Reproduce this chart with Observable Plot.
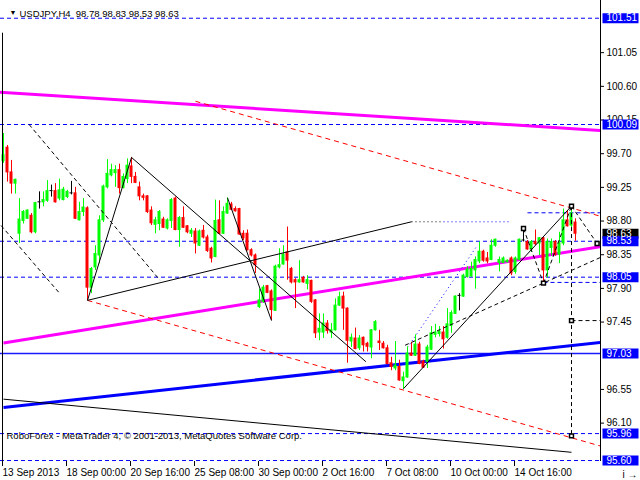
<!DOCTYPE html>
<html><head><meta charset="utf-8">
<script src="https://cdn.jsdelivr.net/npm/d3@7"></script>
<script src="https://cdn.jsdelivr.net/npm/@observablehq/plot@0.6"></script>
<style>html,body{margin:0;padding:0;background:#fff}svg{display:block}</style>
</head><body><div id="chart"></div>
<script>
// ---- data (USDJPY H4, bar index 0 = 13 Sep 2013 08:00) ----
const tickIdx = [0, 16, 32, 48, 64, 80, 96, 112, 128];
const tickLabels = ["13 Sep 2013", "18 Sep 00:00", "20 Sep 16:00", "25 Sep 08:00", "30 Sep 00:00", "2 Oct 16:00", "7 Oct 08:00", "10 Oct 00:00", "14 Oct 16:00"];

const open = [99.60,99.78,99.45,99.30,98.63,98.80,98.83,98.87,98.65,99.05,99.05,99.07,99.20,99.20,99.10,99.08,99.12,99.17,99.17,98.81,
98.92,98.97,97.91,98.18,98.34,98.81,99.25,99.41,99.44,99.48,99.24,99.36,99.53,99.39,99.25,99.13,99.13,98.94,98.75,98.76,
98.82,98.70,98.80,99.10,98.68,98.84,98.73,98.63,98.66,98.47,98.67,98.58,98.43,98.32,98.81,98.63,98.90,99.02,98.96,98.96,
98.63,98.63,98.41,98.34,97.65,97.72,97.93,97.86,97.60,98.18,98.22,98.38,98.16,98.01,97.98,98.04,97.96,98.00,97.74,97.31,
97.31,97.43,97.31,97.34,97.67,97.79,97.63,97.19,97.23,97.10,97.24,97.16,97.11,97.34,97.19,97.16,97.10,96.90,96.83,96.85,
96.66,96.71,97.03,97.00,97.15,96.92,96.92,97.08,97.28,97.29,97.31,97.24,97.40,97.56,97.80,97.79,98.05,98.06,98.14,98.26,
98.39,98.30,98.28,98.47,98.24,98.24,98.25,98.30,98.12,98.28,98.54,98.52,98.42,98.52,98.50,98.57,98.14,98.44,98.52,98.35,
98.50,98.81,98.74,98.78];
const high = [99.97,99.81,99.61,99.36,99.10,98.94,98.95,98.90,99.05,99.19,99.19,99.34,99.28,99.30,99.36,99.25,99.21,99.33,99.25,99.05,
99.10,98.99,98.18,98.47,98.87,99.28,99.62,99.56,99.54,99.56,99.43,99.63,99.65,99.45,99.32,99.16,99.14,98.99,98.85,98.94,
98.85,98.83,99.10,99.12,98.86,98.99,98.74,98.70,98.70,98.68,98.74,98.61,98.45,99.08,99.07,98.99,99.11,99.05,98.99,98.97,
98.67,98.68,98.43,98.36,97.89,97.94,97.94,97.88,98.21,98.43,98.47,98.72,98.18,98.03,98.27,98.06,98.07,98.01,97.75,97.56,
97.56,97.47,97.43,97.76,97.85,97.85,97.64,97.29,97.37,97.27,97.25,97.18,97.35,97.47,97.34,97.19,97.14,96.98,97.19,96.94,
96.78,97.12,97.18,97.28,97.18,96.94,97.14,97.39,97.42,97.39,97.39,97.63,97.60,97.80,97.83,98.09,98.19,98.25,98.32,98.52,
98.41,98.38,98.55,98.56,98.32,98.32,98.28,98.32,98.32,98.56,98.70,98.54,98.54,98.68,98.58,98.58,98.56,98.56,98.54,98.65,
98.96,98.94,98.99,98.83];
const low = [99.57,99.32,99.16,99.16,98.50,98.76,98.82,98.63,98.63,98.96,98.99,99.05,99.12,99.04,99.07,99.07,99.10,99.15,98.82,98.80,
98.86,97.74,97.83,98.14,98.23,98.78,99.23,99.39,99.25,99.16,99.23,99.30,99.30,99.30,99.07,99.07,98.90,98.74,98.63,98.67,
98.70,98.68,98.70,98.67,98.45,98.70,98.63,98.58,98.36,98.46,98.56,98.38,98.24,98.31,98.62,98.62,98.89,98.94,98.92,98.61,
98.54,98.40,98.32,98.10,97.63,97.70,97.83,97.47,97.60,98.16,98.21,98.01,97.96,97.63,97.97,97.97,97.88,97.70,97.23,97.20,
97.23,97.29,97.23,97.33,97.66,97.34,96.90,97.11,97.08,97.07,97.05,97.05,96.96,97.33,97.07,97.09,96.88,96.80,96.80,96.66,
96.55,96.70,96.99,96.99,96.88,96.83,96.83,97.07,97.24,97.25,97.09,97.22,97.30,97.55,97.60,97.78,98.04,98.05,97.89,98.23,
98.25,98.23,98.27,98.45,98.12,98.23,98.24,98.07,98.09,98.27,98.52,98.41,98.38,98.47,98.34,97.98,98.04,98.33,98.33,98.23,
98.47,98.72,98.70,98.53];
const close = [99.68,99.45,99.30,99.35,98.82,98.92,98.94,98.65,99.04,99.05,99.08,99.20,99.20,99.05,99.21,99.22,99.19,99.17,98.83,98.92,
98.98,97.91,98.16,98.36,98.81,99.26,99.43,99.48,99.48,99.24,99.39,99.54,99.39,99.31,99.13,99.11,98.92,98.77,98.81,98.92,
98.71,98.81,99.08,98.68,98.84,98.71,98.65,98.67,98.50,98.66,98.58,98.40,98.30,98.80,98.63,98.92,99.03,98.95,98.93,98.62,
98.57,98.41,98.34,98.21,97.74,97.91,97.84,97.61,98.19,98.21,98.35,98.27,97.98,97.98,98.01,97.98,98.01,97.72,97.30,97.36,
97.43,97.33,97.34,97.67,97.78,97.63,97.20,97.24,97.09,97.23,97.14,97.12,97.34,97.45,97.17,97.10,96.89,96.85,96.87,96.67,
96.71,97.03,97.00,97.15,96.89,96.84,97.11,97.30,97.31,97.32,97.22,97.42,97.57,97.79,97.80,98.07,98.15,98.16,98.28,98.39,
98.27,98.26,98.47,98.55,98.28,98.30,98.27,98.10,98.30,98.55,98.54,98.42,98.52,98.49,98.57,98.14,98.52,98.52,98.35,98.50,
98.81,98.73,98.90,98.63];

// right price scale: regular ticks (those fully hidden behind level labels omitted)
const axisTicks = [101.05, 100.60, 100.15, 99.70, 99.25, 98.80, 98.35, 97.90, 97.45, 96.55, 96.10];
const dashedLevels = [101.51, 100.09, 98.53, 98.05, 95.96, 95.60];
const solidLevels = [97.03];
const labelLevels = [101.51, 100.09, 98.05, 97.03, 95.96, 95.60, 98.53];
const currentPrice = [98.63];

// trend objects: [bar1, price1, bar2, price2]
const magentaLines = [[0, 97.17, 149.5, 98.46], [-1, 100.52, 149.5, 100.01]];
const blueThickLines = [[0, 96.31, 149.5, 97.18]];
const blackLines = [[0, 96.42, 142, 95.71], [21, 97.74, 102, 98.79], [21, 97.74, 32, 99.65], [32, 99.65, 90.6, 96.92], [56, 99.11, 67, 97.47], [100, 96.56, 142, 99.00]];
const blackDashed = [[6.4, 100.09, 39.1, 98.01], [-0.6, 98.74, 14.1, 97.83], [100.4, 97.14, 149.5, 98.32], [130, 98.70, 135, 97.97], [135, 97.97, 142, 99.00], [142, 99.00, 148.4, 98.50], [142, 99.00, 142, 95.93], [142, 97.47, 149.5, 97.47]];
const blackDotted = [[102, 98.79, 110, 98.79]];
const blueDotted = [[110, 98.79, 127, 98.79], [101, 97.11, 118.4, 98.47]];
const blueDashedShort = [[131, 98.91, 149.5, 98.91], [135, 97.98, 149.5, 97.98]];
const redDashed = [[48, 100.40, 149.5, 98.86], [21, 97.74, 149.5, 95.79]];
const markers = [[130, 98.70], [135, 97.97], [142, 99.00], [148.4, 98.50], [142, 97.47], [142, 95.93]];

const titleText = "USDJPY,H4\u00a0\u00a0" + [98.78, 98.83, 98.53, 98.63].map(v => v.toFixed(2)).join(" ");
const captionText = "RoboForex - MetaTrader 4, \u00a9 2001-2013, MetaQuotes Software Corp.";

// ---- chart ----
const bars = open.map((o, i) => ({i, o, h: high[i], l: low[i], c: close[i]}));
const col = d => d.c > d.o ? "#00ff00" : d.c < d.o ? "#ff0000" : "#000000";
const seg = (data, opts) => Plot.link(data, {x1: d => d[0], y1: d => d[1], x2: d => d[2], y2: d => d[3], clip: true, ...opts});
const boxSymbol = {draw(ctx) { ctx.moveTo(-18, -5); ctx.lineTo(18, -5); ctx.lineTo(18, 5); ctx.lineTo(-18, 5); ctx.closePath(); }};

const yMax = 100.09 + 124 / 74.84;
const yMin = yMax - 461 / 74.84;

const chart = Plot.plot({
  width: 640, height: 480,
  marginTop: 0, marginLeft: 0, marginRight: 40, marginBottom: 19,
  style: {fontFamily: "'Liberation Sans', Arial, sans-serif", fontSize: "10px", background: "#ffffff", color: "#000"},
  x: {domain: [-0.75, 149.25], axis: null},
  y: {domain: [yMin, yMax], axis: null},
  marks: [
    Plot.ruleY(dashedLevels, {stroke: "#0000ff", strokeDasharray: "4,3"}),
    Plot.ruleY(solidLevels, {stroke: "#1a1aff", strokeWidth: 1.3}),
    seg(magentaLines, {stroke: "#ff00ff", strokeWidth: 3}),
    seg(blueThickLines, {stroke: "#0000ff", strokeWidth: 3}),
    seg(redDashed, {stroke: "#ff0000", strokeDasharray: "5,4"}),
    seg(blueDotted, {stroke: "#0000ff", strokeDasharray: "1,3"}),
    seg(blueDashedShort, {stroke: "#0000ff", strokeDasharray: "4,3"}),
    seg(blackDotted, {stroke: "#000", strokeDasharray: "1,3"}),
    Plot.ruleX(bars, {x: "i", y1: "l", y2: "h", stroke: col}),
    Plot.rect(bars, {x1: d => d.i - 0.375, x2: d => d.i + 0.375, y1: d => Math.min(d.o, d.c), y2: d => Math.max(d.o, d.c), fill: col, insetTop: -0.5, insetBottom: -0.5}),
    seg(blackLines, {stroke: "#000"}),
    seg(blackDashed, {stroke: "#000", strokeDasharray: "4,3"}),
    Plot.dot(markers, {x: d => d[0], y: d => d[1], symbol: "square", r: 2.2, stroke: "#000", fill: "#fff"}),
    Plot.ruleX([-0.25], {y1: 101.31, y2: yMin, stroke: "#000"}),
    Plot.ruleX([149.25], {stroke: "#000"}),
    Plot.axisY({anchor: "right", ticks: axisTicks, tickFormat: d => d.toFixed(2), tickSize: 3, tickPadding: 3}),
    Plot.axisX({ticks: tickIdx, tickFormat: d => tickLabels[tickIdx.indexOf(d)], tickSize: 5, tickPadding: 2, textAnchor: "start", dx: -1}),
    Plot.dot(currentPrice, {y: d => d, frameAnchor: "right", dx: 20, symbol: boxSymbol, fill: "#000", stroke: "none"}),
    Plot.text(currentPrice, {y: d => d, text: d => d.toFixed(2), frameAnchor: "right", dx: 6, textAnchor: "start", fill: "#fff"}),
    Plot.dot(labelLevels, {y: d => d, frameAnchor: "right", dx: 20, symbol: boxSymbol, fill: "#0000ff", stroke: "none"}),
    Plot.text(labelLevels, {y: d => d, text: d => d.toFixed(2), frameAnchor: "right", dx: 6, textAnchor: "start", fill: "#fff"}),
    Plot.text(["\u25bc"], {frameAnchor: "top-left", dx: 9, dy: 10, fontSize: 7, fill: "#000"}),
    Plot.text([titleText], {frameAnchor: "top-left", dx: 19, dy: 10, textAnchor: "start", fill: "#000", fontSize: 9.5}),
    Plot.text([captionText], {frameAnchor: "bottom-left", dx: 6, dy: -23, textAnchor: "start", fill: "#000", fontSize: 9.5})
  ]
});
document.getElementById("chart").append(chart);
</script>
</body></html>
